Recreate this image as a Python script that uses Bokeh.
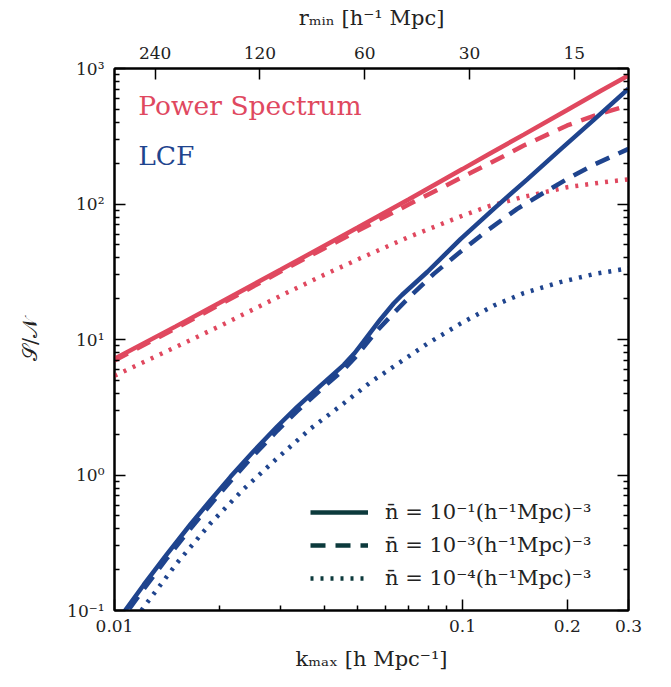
import numpy as np
from bokeh.plotting import figure
from bokeh.models import (Range1d, FixedTicker, CustomJSTickFormatter, LogAxis,
                          Legend, LegendItem, Label)
from bokeh.embed import file_html
from bokeh.resources import INLINE

# ---- data: signal-to-noise vs maximum wavenumber ----
# Power spectrum
ps_k = [0.01, 0.015, 0.02, 0.03, 0.04, 0.05, 0.07, 0.1, 0.12, 0.15, 0.2, 0.25, 0.3]
ps_sn_n1 = [7.2, 12.5, 18.6, 32.7, 49, 67, 108, 181, 236, 325, 494, 686, 890]
ps_sn_n3 = [7.0, 12.1, 18.0, 31.7, 47, 63.5, 99, 158, 200, 270, 380, 466, 535]
ps_sn_n4 = [5.4, 8.8, 12.5, 21, 30, 39, 57, 82, 97, 113, 133, 144, 152]

# Line correlation function
lcf_k1 = [0.01, 0.01214, 0.01417, 0.01654, 0.01888, 0.02154, 0.02514, 0.02934,
          0.0335, 0.0391, 0.0456, 0.049, 0.052, 0.058, 0.0635, 0.067, 0.0792,
          0.0987, 0.123, 0.1535, 0.191, 0.2384, 0.3]
lcf_sn_n1 = [0.078, 0.155, 0.262, 0.433, 0.652, 0.969, 1.505, 2.28,
             3.18, 4.57, 6.5, 7.95, 9.7, 14.0, 18.5, 21.3, 31.5,
             55, 92, 152, 252, 418, 711]

lcf_k3 = [0.01, 0.01214, 0.01417, 0.01654, 0.01888, 0.02154, 0.02514, 0.02934,
          0.0335, 0.0391, 0.0456, 0.049, 0.052, 0.0565, 0.0607, 0.065, 0.071,
          0.0827, 0.0987, 0.1178, 0.1436, 0.1675, 0.2, 0.2384, 0.3]
lcf_sn_n3 = [0.073, 0.144, 0.244, 0.403, 0.606, 0.90, 1.40, 2.12,
             2.96, 4.25, 6.0, 7.3, 8.8, 11.4, 13.9, 16.7, 21,
             30.5, 44.5, 63.7, 92, 117, 153, 195, 255]

lcf_k4 = [0.0115, 0.01214, 0.01514, 0.01888, 0.02353, 0.02934, 0.0366, 0.0456,
          0.0545, 0.0792, 0.0987, 0.123, 0.15, 0.191, 0.24, 0.3]
lcf_sn_n4 = [0.087, 0.106, 0.225, 0.44, 0.79, 1.33, 2.2, 3.38,
             4.85, 9.3, 13.1, 17.8, 22.0, 26.5, 30.5, 33.5]

# ---- ticks ----
x_major = [0.01, 0.1, 0.2, 0.3]
x_minor = [0.02, 0.03, 0.04, 0.05, 0.06, 0.07, 0.08, 0.09]
y_major = [0.1, 1, 10, 100, 1000]
y_minor = [m * 10.0 ** e for e in range(-1, 3) for m in range(2, 10)]
r_ticks = [240, 120, 60, 30, 15]   # r_min = pi / k_max

legend_labels = [
    "n\u0304 = 10\u207b\u00b9(h\u207b\u00b9Mpc)\u207b\u00b3",
    "n\u0304 = 10\u207b\u00b3(h\u207b\u00b9Mpc)\u207b\u00b3",
    "n\u0304 = 10\u207b\u2074(h\u207b\u00b9Mpc)\u207b\u00b3",
]

RED = "#E0485F"
BLUE = "#1F448E"
DARK = "#0C3A3C"
FONT = "DejaVu Serif"
LW = 4.5
DASH = "15 10"
DOT = "3 7"

p = figure(width=671, height=687, x_axis_type="log", y_axis_type="log",
           x_range=Range1d(0.01, 0.3), y_range=Range1d(0.1, 1000),
           output_backend="svg", toolbar_location=None,
           min_border_left=114, min_border_right=43,
           min_border_top=68, min_border_bottom=77)
p.grid.visible = False
p.background_fill_color = "white"
p.border_fill_color = "white"
p.outline_line_color = "black"
p.outline_line_width = 2

sup = ("const s={'-':'\u207b','0':'\u2070','1':'\u00b9','2':'\u00b2','3':'\u00b3',"
       "'4':'\u2074','5':'\u2075','6':'\u2076','7':'\u2077','8':'\u2078','9':'\u2079'};"
       "const e=Math.round(Math.log10(tick));"
       "return '10'+String(e).split('').map(c=>s[c]).join('');")


def style_axis(ax, major_len=11, minor_len=5):
    ax.axis_line_width = 2
    ax.axis_line_color = "black"
    ax.major_tick_in = major_len
    ax.major_tick_out = 0
    ax.minor_tick_in = minor_len
    ax.minor_tick_out = 0
    ax.major_tick_line_width = 1.5
    ax.minor_tick_line_width = 1.5
    ax.major_label_text_font = FONT
    ax.major_label_text_font_size = "17px"
    ax.major_label_text_color = "#222222"
    ax.axis_label_text_font = FONT
    ax.axis_label_text_font_size = "21px"
    ax.axis_label_text_font_style = "normal"
    ax.axis_label_text_color = "#222222"


# bottom axis
xa = p.xaxis[0]
xa.ticker = FixedTicker(ticks=x_major, minor_ticks=x_minor)
xa.formatter = CustomJSTickFormatter(code="return String(tick);")
xa.axis_label = "k\u2098\u2090\u2093 [h Mpc\u207b\u00b9]"
style_axis(xa)
xa.major_label_standoff = 9
xa.axis_label_standoff = 12

# left axis
ya = p.yaxis[0]
ya.ticker = FixedTicker(ticks=y_major, minor_ticks=y_minor)
ya.formatter = CustomJSTickFormatter(code=sup)
ya.axis_label = "\U0001d4ae/\U0001d4a9"
style_axis(ya)
ya.major_label_standoff = 10
ya.axis_label_standoff = 22

# right axis (ticks only)
ra = LogAxis(ticker=FixedTicker(ticks=y_major, minor_ticks=y_minor),
             formatter=CustomJSTickFormatter(code="return '';"))
style_axis(ra)
p.add_layout(ra, "right")

# top axis in r_min
ta = LogAxis(ticker=FixedTicker(ticks=[np.pi / r for r in r_ticks], minor_ticks=[]),
             formatter=CustomJSTickFormatter(code="return String(Math.round(Math.PI / tick));"),
             axis_label="r\u2098\u1d62\u2099 [h\u207b\u00b9 Mpc]")
style_axis(ta)
ta.major_label_standoff = 10
ta.axis_label_standoff = 14
p.add_layout(ta, "above")

# curves
def curve(x, y, color, dash):
    return p.line(x, y, line_color=color, line_width=LW, line_dash=dash, line_cap="butt")

curve(ps_k, ps_sn_n4, RED, DOT)
curve(ps_k, ps_sn_n3, RED, DASH)
curve(ps_k, ps_sn_n1, RED, "solid")
curve(lcf_k4, lcf_sn_n4, BLUE, DOT)
curve(lcf_k3, lcf_sn_n3, BLUE, DASH)
curve(lcf_k1, lcf_sn_n1, BLUE, "solid")

# legend keys: neutral-coloured line styles, kept outside the visible ranges
proxy_x = [1e-4, 2e-4]
proxy_y = [1e-4, 2e-4]
items = []
for lab, dash in zip(legend_labels, ["solid", DASH, DOT]):
    r = curve(proxy_x, proxy_y, DARK, dash)
    items.append(LegendItem(label=lab, renderers=[r]))
leg = Legend(items=items, location=(196, 20), glyph_width=58, glyph_height=20,
             label_height=20, spacing=9, label_standoff=17, padding=0, margin=0,
             background_fill_alpha=0, border_line_alpha=0,
             label_text_font=FONT, label_text_font_size="21px",
             label_text_color="#222222")
p.add_layout(leg, "center")

# series titles
p.add_layout(Label(x=0.0117, y=530, text="Power Spectrum", text_color=RED,
                   text_font=FONT, text_font_size="26.5px", text_baseline="middle"))
p.add_layout(Label(x=0.0117, y=228, text="LCF", text_color=BLUE,
                   text_font=FONT, text_font_size="26.5px", text_baseline="middle"))

open("out.html", "w").write(file_html(p, INLINE))
